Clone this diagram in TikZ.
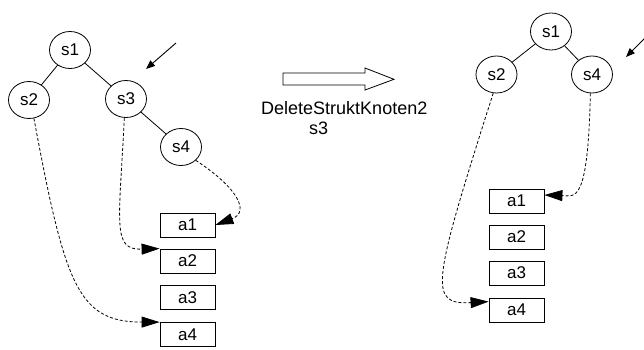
\documentclass[tikz,border=0pt]{standalone}
\usepackage{fontspec}
\setmainfont{Liberation Sans}
\usetikzlibrary{shapes.geometric,arrows.meta}
\tikzset{
  knot/.style={ellipse,draw,line width=0.8pt,minimum width=41pt,minimum height=37pt,inner sep=0pt,font=\fontsize{17}{20}\selectfont},
  cell/.style={rectangle,draw,line width=0.8pt,minimum width=55pt,minimum height=24pt,inner sep=0pt,font=\fontsize{17}{20}\selectfont},
  treeline/.style={line width=0.8pt},
  ptr/.style={line width=0.8pt,dash pattern=on 3pt off 2pt,-{Triangle[length=18pt,width=11pt]}},
  marker/.style={line width=0.9pt,-{Triangle[length=9pt,width=7pt]}},
  caption/.style={font=\fontsize{18}{21}\selectfont,inner sep=0pt,anchor=base west}
}
\begin{document}
\begin{tikzpicture}[x=1pt,y=-1pt]
\useasboundingbox (0,0) rectangle (644,349);

% ---- tree before deletion ----
\node[knot] (ls1) at (70,50) {s1};
\node[knot] (ls2) at (29,100) {s2};
\node[knot] (ls3) at (126,99) {s3};
\node[knot] (ls4) at (181,147) {s4};
\draw[treeline] (ls1) -- (ls2);
\draw[treeline] (ls1) -- (ls3);
\draw[treeline] (ls3) -- (ls4);

\node[cell] (la1) at (187.5,225) {a1};
\node[cell] (la2) at (187.5,261) {a2};
\node[cell] (la3) at (187.5,297.5) {a3};
\node[cell] (la4) at (187.5,334.5) {a4};

\draw[ptr] (ls4.south east) .. controls (238,188) and (250,212) .. (la1.east);
\draw[ptr] (ls3.-95) .. controls (119,225) and (112,250) .. (la2.north west);
\draw[ptr] (ls2.-75) .. controls (65,285) and (78,322) .. (la4.north west);

\coordinate (lmfrom) at (176,43);
\coordinate (lmto) at (146,69);
\draw[marker] (lmfrom) -- (lmto);

% ---- operation ----
\draw[line width=0.8pt] (283,73) -- (365,73) -- (365,68) -- (394,79.3)
  -- (365,90) -- (365,85) -- (283,85) -- cycle;
\node[caption] (opname) at (261,114) {DeleteStruktKnoten2};
\node[caption] (oparg) at (309,134) {s3};

% ---- tree after deletion ----
\node[knot] (rs1) at (551,31.5) {s1};
\node[knot] (rs2) at (496.5,74.5) {s2};
\node[knot] (rs4) at (592,74.5) {s4};
\draw[treeline] (rs1) -- (rs2);
\draw[treeline] (rs1) -- (rs4);

\node[cell] (ra1) at (516.5,201) {a1};
\node[cell] (ra2) at (516.5,237) {a2};
\node[cell] (ra3) at (516.5,273) {a3};
\node[cell] (ra4) at (516.5,310) {a4};

\draw[ptr] (rs4.-95) .. controls (588,205) and (575,196) .. ([yshift=6pt]ra1.east);
\draw[ptr] (rs2.-100) .. controls (432,285) and (428,305) .. ([yshift=-4pt]ra4.north west);

\coordinate (rmfrom) at (645,38);
\coordinate (rmto) at (626,57);
\draw[marker] (rmfrom) -- (rmto);
\end{tikzpicture}
\end{document}
